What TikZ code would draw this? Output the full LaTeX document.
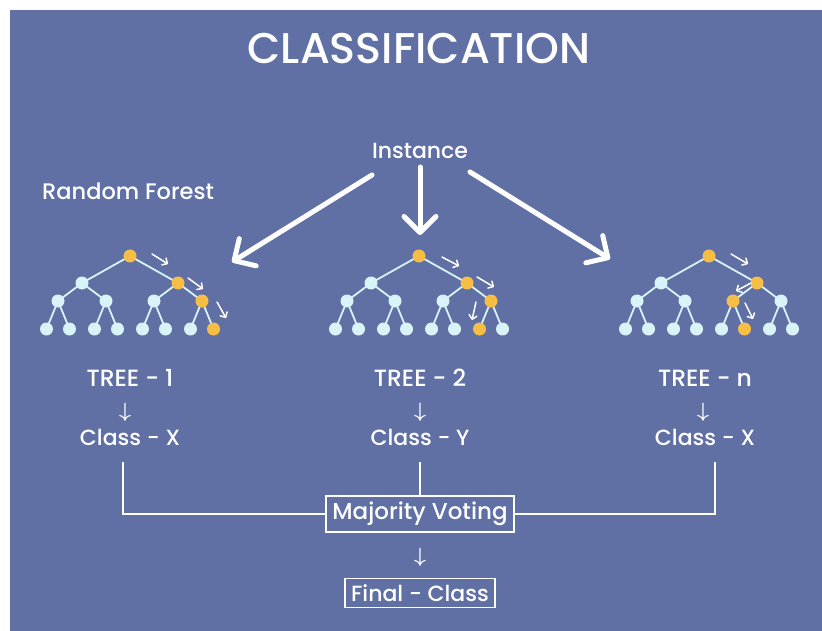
\documentclass[tikz,border=0pt]{standalone}
\usepackage{fontspec}
\setmainfont{Poppins Medium}
\usetikzlibrary{arrows.meta,calc}
\definecolor{panel}{HTML}{6070A5}
\definecolor{cool}{HTML}{D8F4F8}
\definecolor{hot}{HTML}{F7BE45}
\pgfdeclarelayer{back}
\pgfdeclarelayer{edges}
\pgfsetlayers{back,edges,main}
\tikzset{
  label/.style={text=white, inner sep=0pt, font=\fontsize{22}{24}\selectfont},
  down/.style={text=white, inner sep=0pt, font=\fontsize{22}{24}\selectfont\boldmath},
  box/.style={label, draw=white, line width=1.8pt, inner xsep=6pt, inner ysep=6pt},
  wire/.style={draw=white, line width=1.8pt},
  bigarrow/.style={draw=white, line width=5pt, line cap=round,
    -{Straight Barb[length=16pt,width=32pt,line width=5pt,round]}},
  hint/.style={draw=white, line width=1.5pt, line cap=round,
    -{Straight Barb[length=4pt,width=8pt,round]}},
  treenode/.style={circle, inner sep=0pt, minimum size=13pt},
  coolnode/.style={treenode, fill=cool},
  hotnode/.style={treenode, fill=hot},
  branch/.style={draw=cool, line width=1.8pt},
}
% one binary tree of depth 3; #1 prefix, #2 root x, #3 highlighted nodes (heap numbering)
\newcommand\foresttree[3]{%
  \foreach \k/\dx/\yy in {1/0/256, 2/-48/283, 3/48/283,
      4/-72/301, 5/-24/301, 6/24/301, 7/72/301,
      8/-83.5/329, 9/-60.5/329, 10/-35.5/329, 11/-12.5/329,
      12/12.5/329, 13/35.5/329, 14/60.5/329, 15/83.5/329}{%
    \gdef\nodestyle{coolnode}%
    \foreach \o in {#3}{\ifnum\k=\o\relax\gdef\nodestyle{hotnode}\fi}%
    \node[\nodestyle] (#1n\k) at (#2+\dx,\yy) {};
  }
  \begin{pgfonlayer}{edges}
    \foreach \p in {1,...,7}{%
      \pgfmathtruncatemacro\ca{2*\p}%
      \pgfmathtruncatemacro\cb{2*\p+1}%
      \draw[branch] (#1n\p.center) -- (#1n\ca.center);
      \draw[branch] (#1n\p.center) -- (#1n\cb.center);
    }
  \end{pgfonlayer}
}
\begin{document}
\begin{tikzpicture}[x=1pt,y=-1pt]
  \useasboundingbox (0,0) rectangle (822,631);
  \begin{pgfonlayer}{back}
    \fill[white] (0,0) rectangle (822,631);
    \fill[panel] (10,10) rectangle (822,631);
  \end{pgfonlayer}

  % headings
  \node[label, font=\fontsize{43}{46}\selectfont] (title) at (419,49) {CLASSIFICATION};
  \node[label, font=\fontsize{22}{24}\selectfont] (inst) at (420,151) {Instance};
  \node[label, font=\fontsize{22.5}{24}\selectfont, anchor=west] (rf) at (42,191) {Random Forest};

  % the three trees
  \foresttree{a}{130}{1,3,7,15}
  \foresttree{b}{419}{1,3,7,14}
  \foresttree{c}{709}{1,3,6,13}

  % instance routed to each tree
  \coordinate (la) at (232,262);
  \coordinate (ma) at (420,235);
  \coordinate (ra) at (610,259);
  \draw[bigarrow] (372,175) -- (la);
  \draw[bigarrow] (inst.south) ++(0,8) -- (ma);
  \draw[bigarrow] (470,172) -- (ra);

  % decision path hints
  \draw[hint] ($(an1)+(22,-2)$) -- ++(16,10);
  \draw[hint] ($(an3)+(10,-5)$) -- ++(15,11);
  \draw[hint] ($(an7)+(15,1)$) -- ++(9,16);
  \draw[hint] ($(bn1)+(23,1)$) -- ++(17,9);
  \draw[hint] ($(bn3)+(10,-6)$) -- ++(17,10);
  \draw[hint] ($(bn7)+(-15,1)$) -- ++(-4,18);
  \draw[hint] ($(cn1)+(22,-2)$) -- ++(17,10);
  \draw[hint] ($(cn3)+(-6,0)$) -- ++(-15,8);
  \draw[hint] ($(cn6)+(12,2)$) -- ++(8,16);

  % votes
  \foreach \t/\x/\ax/\n/\c in {a/130/125/1/X, b/420/420/2/Y, c/705/703/n/X}{
    \node[label, font=\fontsize{23.5}{24}\selectfont] (tree\t) at (\x,378) {TREE - \n};
    \node[down] (arr\t) at (\ax,412) {$\downarrow$};
    \node[label] (class\t) at (\x,437) {Class - \c};
  }

  \node[box, font=\fontsize{23}{24}\selectfont] (vote) at (420,514) {Majority Voting};
  \node[down] (arrv) at (420,557) {$\downarrow$};
  \node[box] (final) at (420,593) {Final - Class};

  \coordinate (ca) at (123,462);
  \coordinate (cb) at (420,462);
  \coordinate (cc) at (715,462);
  \draw[wire] (ca) |- (vote.west);
  \draw[wire] (cc) |- (vote.east);
  \draw[wire] (cb) -- (vote.north);
\end{tikzpicture}
\end{document}
